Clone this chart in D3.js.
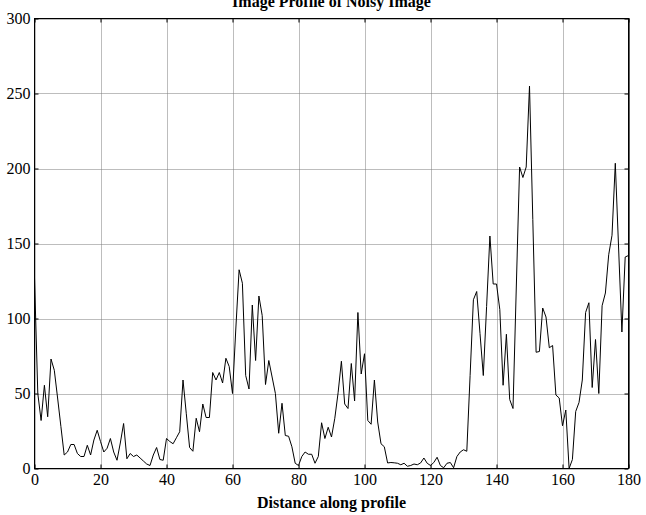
<!doctype html>
<html>
<head>
<script src="https://d3js.org/d3.v7.min.js"></script>
<style>
  body { margin: 0; background: #fff; }
</style>
</head>
<body>
<script>
    // intensity profile, one sample per unit of distance (0..180)
    var profile = [
        127, 50, 32, 55.5, 34.5, 73, 65.5, 47, 28, 9,
        11, 16, 16, 10, 8, 8, 15.5, 9, 19, 25.5,
        18, 11, 13.5, 20, 11, 5.5, 17, 30, 6.5, 10,
        8, 9, 7, 5, 3, 2, 9, 14, 6, 5.5,
        20, 18, 16.5, 20.5, 24.5, 59, 36.5, 14, 11.5, 33.5,
        24.5, 43, 34, 34, 64, 59, 64, 57, 73.5, 68,
        50, 93, 132.5, 123.5, 62, 53, 109, 72, 115, 102,
        56, 72, 61, 50, 23.5, 43.5, 22, 21.5, 14.5, 3.5,
        2, 8, 11, 9.5, 9.5, 3.5, 8, 30.5, 20, 27.5,
        21, 33.5, 50.5, 71.5, 43, 40, 70, 45, 104, 63,
        76.5, 32, 29.5, 59, 31, 16.5, 14.5, 3.7, 4, 3.8,
        3.5, 2.5, 3.5, 1.5, 2, 3, 2.5, 3.7, 7, 3.5,
        2, 4, 7.5, 2, 0.5, 3.5, 4, 0.5, 8, 11,
        12.5, 11.5, 62, 112.5, 118, 90, 62, 108, 155, 123,
        123, 106, 55.5, 89.5, 46, 40, 121, 201, 194, 201,
        255, 166, 77.5, 78, 107, 101, 80.5, 82, 49, 47,
        28.5, 39, 0, 6, 38, 44, 59, 104, 110.5, 54,
        86, 50, 108.5, 117, 142.5, 155.5, 203.5, 147, 91, 141,
        142
    ];
    var xTicks = [0, 20, 40, 60, 80, 100, 120, 140, 160, 180];
    var yTicks = [0, 50, 100, 150, 200, 250, 300];
    var titleText = "Image Profile of Noisy Image";
    var xLabelText = "Distance along profile";

    var canvasWidth = 646;
    var canvasHeight = 515;
    var plotLeft = 34.5, plotRight = 628.5, plotTop = 18.5, plotBottom = 468.5;
    var font = "'Liberation Serif', 'Times New Roman', serif";

    var svg = d3.select("body").append("svg")
        .attr("width", canvasWidth)
        .attr("height", canvasHeight)
        .style("display", "block");

    var xScale = d3.scaleLinear().domain([0, 180]).range([plotLeft, plotRight]);
    var yScale = d3.scaleLinear().domain([0, 300]).range([plotBottom, plotTop]);
    var step = 180 / (profile.length - 1);

    // dotted grid
    var grid = svg.append("g")
        .attr("stroke", "#7a7a7a")
        .attr("stroke-width", 1)
        .attr("stroke-dasharray", "1,1");
    grid.selectAll(".vgrid")
        .data(xTicks)
        .enter().append("line")
        .attr("x1", function(d) { return Math.round(xScale(d)) + 0.5; })
        .attr("x2", function(d) { return Math.round(xScale(d)) + 0.5; })
        .attr("y1", plotTop)
        .attr("y2", plotBottom);
    grid.selectAll(".hgrid")
        .data(yTicks)
        .enter().append("line")
        .attr("y1", function(d) { return Math.round(yScale(d)) + 0.5; })
        .attr("y2", function(d) { return Math.round(yScale(d)) + 0.5; })
        .attr("x1", plotLeft)
        .attr("x2", plotRight);

    // the profile
    var line = d3.line()
        .x(function(d, i) { return xScale(i * step); })
        .y(function(d) { return yScale(d); });

    svg.append("path")
        .datum(profile)
        .attr("fill", "none")
        .attr("stroke", "#000")
        .attr("stroke-width", 1)
        .attr("d", line);

    // axes with inward ticks on all four sides
    function styleAxis(g) {
        g.select(".domain").remove();
        g.selectAll("line").attr("stroke", "#000");
        g.selectAll("text")
            .attr("font-family", font)
            .attr("font-size", "16px")
            .attr("fill", "#000");
    }

    svg.append("g")
        .attr("transform", "translate(0," + plotBottom + ")")
        .call(d3.axisBottom(xScale).tickValues(xTicks).tickSize(-4).tickPadding(5).tickSizeOuter(0))
        .call(styleAxis);

    svg.append("g")
        .attr("transform", "translate(" + plotLeft + ",0)")
        .call(d3.axisLeft(yScale).tickValues(yTicks).tickSize(-4).tickPadding(4).tickSizeOuter(0))
        .call(styleAxis);

    svg.append("g")
        .attr("transform", "translate(0," + plotTop + ")")
        .call(d3.axisTop(xScale).tickValues(xTicks).tickSize(-4).tickFormat("").tickSizeOuter(0))
        .call(styleAxis);

    svg.append("g")
        .attr("transform", "translate(" + plotRight + ",0)")
        .call(d3.axisRight(yScale).tickValues(yTicks).tickSize(-4).tickFormat("").tickSizeOuter(0))
        .call(styleAxis);

    // box
    svg.append("rect")
        .attr("x", plotLeft)
        .attr("y", plotTop)
        .attr("width", plotRight - plotLeft)
        .attr("height", plotBottom - plotTop)
        .attr("fill", "none")
        .attr("stroke", "#000")
        .attr("stroke-width", 1);
    svg.append("line")
        .attr("x1", plotRight + 0.5).attr("x2", plotRight + 0.5)
        .attr("y1", plotTop).attr("y2", plotBottom)
        .attr("stroke", "#000");

    svg.append("text")
        .attr("x", (plotLeft + plotRight) / 2)
        .attr("y", 7)
        .attr("text-anchor", "middle")
        .attr("font-family", font)
        .attr("font-weight", "bold")
        .attr("font-size", "16px")
        .text(titleText);

    svg.append("text")
        .attr("x", (plotLeft + plotRight) / 2)
        .attr("y", 508)
        .attr("text-anchor", "middle")
        .attr("font-family", font)
        .attr("font-weight", "bold")
        .attr("font-size", "16px")
        .text(xLabelText);
</script>
</body>
</html>
